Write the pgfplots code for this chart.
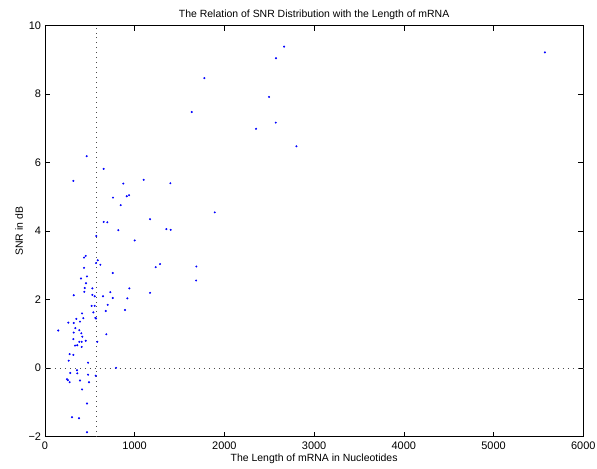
\documentclass[border=0pt]{standalone}
\usepackage{fontspec}
\setmainfont{Liberation Sans}
\usepackage{pgfplots}
\pgfplotsset{compat=1.18}
\begin{document}
\fontsize{11}{13}\selectfont
\begin{tikzpicture}
\begin{axis}[
  scale only axis,
  width=538.4bp, height=411bp,
  xmin=0, xmax=6000, ymin=-2, ymax=10,
  xtick={0,1000,...,6000}, ytick={-2,0,...,10},
  yticklabels={\char"2212 2,0,2,4,6,8,10},
  tick align=inside, major tick length=5bp,
  tick style={black, line width=0.5pt},
  axis line style={black, line width=0.7pt},
  scaled x ticks=false,
  /pgf/number format/assume math mode=true,
  /pgf/number format/1000 sep={},
  ticklabel style={font=\fontsize{11}{13}\selectfont},
  xticklabel style={yshift=-1bp},
  xlabel={The Length of mRNA in Nucleotides},
  ylabel={SNR in dB},
  title={The Relation of SNR Distribution with the Length of mRNA},
  title style={font=\fontsize{10.5}{12.5}\selectfont, yshift=-4bp},
  label style={font=\fontsize{10.5}{12.5}\selectfont},
  xlabel style={yshift=3bp},
  ylabel style={yshift=-2bp},
  clip=false,
]
\addplot[black!70, dash pattern=on 0.7pt off 4.3pt, line width=0.6pt, forget plot] coordinates {(573,-2) (573,10)};
\addplot[black!70, dash pattern=on 0.7pt off 4.3pt, line width=0.6pt, forget plot] coordinates {(0,0) (6000,0)};
\addplot[only marks, mark=*, mark size=0.8pt, color=blue] coordinates {
(2666,9.39) (2576,9.05) (1777,8.47) (2498,7.92) (1636,7.48) (2573,7.17) (2353,6.99) (2803,6.48)
(5572,9.22) (1893,4.55) (1688,2.97) (1685,2.56)
(1101,5.50) (874,5.39) (1398,5.40) (759,4.98) (912,5.02) (938,5.05) (845,4.76) (1172,4.35)
(818,4.03) (1354,4.06) (1402,4.04) (1001,3.73) (1283,3.04) (1235,2.95) (756,2.78) (941,2.33)
(756,2.05) (919,2.04) (1172,2.20) (893,1.70) (793,0.01)
(466,6.19) (655,5.82) (317,5.47) (573,3.86) (655,4.27) (696,4.26) (455,3.28) (436,3.23)
(589,3.15) (570,3.07) (618,3.02) (436,2.93) (469,2.68) (402,2.62) (458,2.48) (444,2.34)
(529,2.33) (729,2.22) (439,2.23) (321,2.13) (648,2.10) (529,2.14) (555,2.10) (521,1.82)
(555,1.82) (700,1.85) (678,1.67) (414,1.60) (540,1.63) (562,1.47) (570,1.45) (428,1.46)
(350,1.44) (261,1.33) (321,1.32) (391,1.36) (339,1.17) (149,1.10) (383,1.11) (406,1.02)
(417,0.92) (321,1.04) (685,0.99) (317,0.85) (383,0.77) (410,0.77) (455,0.80) (584,0.77)
(336,0.66) (361,0.67) (410,0.62) (276,0.41) (317,0.39) (265,0.22) (481,0.16) (283,-0.14)
(358,-0.06) (361,-0.15) (481,-0.19) (566,-0.22) (246,-0.32) (257,-0.35) (276,-0.41) (391,-0.36)
(492,-0.41) (414,-0.62) (469,-1.03) (302,-1.43) (380,-1.46) (469,-1.87)
};
\end{axis}
\pgfresetboundingbox
\path[use as bounding box] ([shift={(-44.9bp,-32.3bp)}]current axis.south west) rectangle ([shift={(13.7bp,25.7bp)}]current axis.north east);
\end{tikzpicture}
\end{document}
